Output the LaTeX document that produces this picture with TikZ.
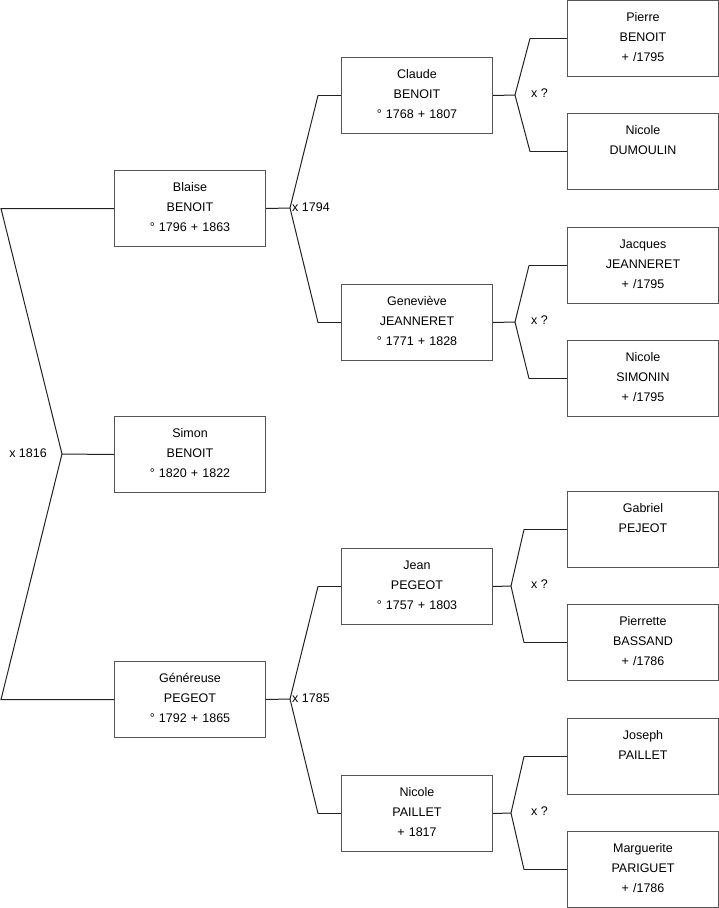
\documentclass[tikz,border=0pt]{standalone}
\usepackage{fontspec}
\setmainfont{Liberation Sans}
\definecolor{boxline}{HTML}{555555}
\definecolor{conline}{HTML}{222222}
\begin{document}
\begin{tikzpicture}[x=1pt,y=-1pt,
  person/.style={draw=boxline, line width=1pt, anchor=north west, inner xsep=0pt, inner ysep=0pt,
    text width=151pt, align=center, text height=20.5pt, text depth=55.5pt,
    minimum width=151pt, minimum height=76pt,
    font=\fontsize{12.5}{20}\selectfont},
  con/.style={draw=conline, line width=1pt},
  lab/.style={inner sep=0pt, font=\fontsize{12.5}{15}\selectfont}]
\useasboundingbox (0,0) rectangle (719,908);
% generation 1
\node[person] (blaise) at (114,170) {Blaise\\BENOIT\\° 1796 + 1863};
\node[person] (simon) at (114,416) {Simon\\BENOIT\\° 1820 + 1822};
\node[person] (genereuse) at (114,661) {Généreuse\\PEGEOT\\° 1792 + 1865};
% generation 2
\node[person] (claude) at (341,57) {Claude\\BENOIT\\° 1768 + 1807};
\node[person] (genevieve) at (341,284) {Geneviève\\JEANNERET\\° 1771 + 1828};
\node[person] (jean) at (341,548) {Jean\\PEGEOT\\° 1757 + 1803};
\node[person] (nicolep) at (341,775) {Nicole\\PAILLET\\+ 1817};
% generation 3
\node[person] (pierre) at (567,0) {Pierre\\BENOIT\\+ /1795};
\node[person] (nicoled) at (567,113) {Nicole\\DUMOULIN};
\node[person] (jacques) at (567,227) {Jacques\\JEANNERET\\+ /1795};
\node[person] (nicoles) at (567,340) {Nicole\\SIMONIN\\+ /1795};
\node[person] (gabriel) at (567,491) {Gabriel\\PEJEOT};
\node[person] (pierrette) at (567,604) {Pierrette\\BASSAND\\+ /1786};
\node[person] (joseph) at (567,718) {Joseph\\PAILLET};
\node[person] (marguerite) at (567,831) {Marguerite\\PARIGUET\\+ /1786};
% vertices
\coordinate (m1) at (62,454);
\coordinate (m2a) at (290,208);
\coordinate (m2b) at (290,699);
\coordinate (m3a) at (515,95);
\coordinate (m3b) at (515,322);
\coordinate (m3c) at (511,586);
\coordinate (m3d) at (511,813);
% connectors
\draw[con] (blaise.west) -- ([xshift=-113pt]blaise.west) -- (m1) -- ([xshift=-113pt]genereuse.west) -- (genereuse.west);
\draw[con] (m1) -- (simon.west);
\draw[con] (blaise.east) -- (m2a);
\draw[con] ([xshift=-23pt]claude.west) -- (m2a) -- ([xshift=-23pt]genevieve.west);
\draw[con] ([xshift=-23pt]claude.west) -- (claude.west);
\draw[con] ([xshift=-23pt]genevieve.west) -- (genevieve.west);
\draw[con] (genereuse.east) -- (m2b);
\draw[con] ([xshift=-23pt]jean.west) -- (m2b) -- ([xshift=-23pt]nicolep.west);
\draw[con] ([xshift=-23pt]jean.west) -- (jean.west);
\draw[con] ([xshift=-23pt]nicolep.west) -- (nicolep.west);
\draw[con] (claude.east) -- (m3a);
\draw[con] ([xshift=-37pt]pierre.west) -- (m3a) -- ([xshift=-37pt]nicoled.west);
\draw[con] ([xshift=-37pt]pierre.west) -- (pierre.west);
\draw[con] ([xshift=-37pt]nicoled.west) -- (nicoled.west);
\draw[con] (genevieve.east) -- (m3b);
\draw[con] ([xshift=-38pt]jacques.west) -- (m3b) -- ([xshift=-38pt]nicoles.west);
\draw[con] ([xshift=-38pt]jacques.west) -- (jacques.west);
\draw[con] ([xshift=-38pt]nicoles.west) -- (nicoles.west);
\draw[con] (jean.east) -- (m3c);
\draw[con] ([xshift=-43pt]gabriel.west) -- (m3c) -- ([xshift=-43pt]pierrette.west);
\draw[con] ([xshift=-43pt]gabriel.west) -- (gabriel.west);
\draw[con] ([xshift=-43pt]pierrette.west) -- (pierrette.west);
\draw[con] (nicolep.east) -- (m3d);
\draw[con] ([xshift=-43pt]joseph.west) -- (m3d) -- ([xshift=-43pt]marguerite.west);
\draw[con] ([xshift=-43pt]joseph.west) -- (joseph.west);
\draw[con] ([xshift=-43pt]marguerite.west) -- (marguerite.west);
% labels
\node[lab, anchor=east] (l1816) at (47,453) {x 1816};
\node[lab, anchor=west] (l1794) at (292,207) {x 1794};
\node[lab, anchor=west] (l1785) at (292,698) {x 1785};
\node[lab, anchor=west] (lq1) at (531,93) {x ?};
\node[lab, anchor=west] (lq2) at (531,320) {x ?};
\node[lab, anchor=west] (lq3) at (531,584) {x ?};
\node[lab, anchor=west] (lq4) at (531,811) {x ?};
\end{tikzpicture}
\end{document}
